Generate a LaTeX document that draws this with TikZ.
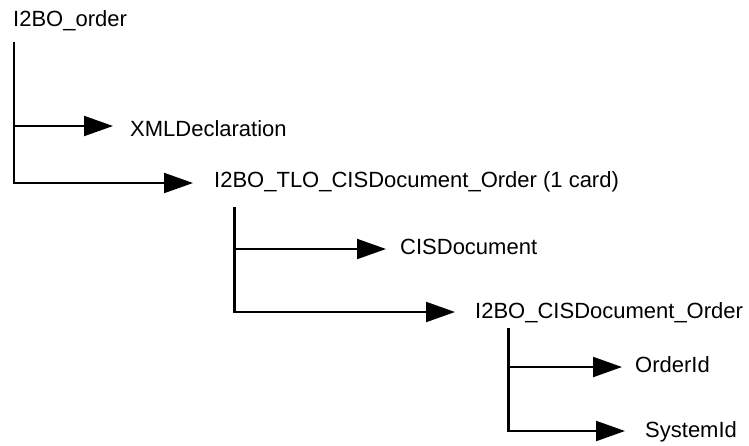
\documentclass[tikz,border=0pt]{standalone}
\usepackage{fontspec}
\setmainfont{Liberation Sans}
\usetikzlibrary{arrows.meta}
\begin{document}
\begin{tikzpicture}[x=1pt,y=-1pt,
  lbl/.style={anchor=base west,inner sep=0pt,font=\fontsize{22}{26}\selectfont},
  branch/.style={line width=2.1pt,-{Triangle[length=29pt,width=20pt]}}]
\useasboundingbox (0,0) rectangle (749,445);
% labels
\node[lbl] (root) at (13,26) {I2BO\_order};
\node[lbl] (xml) at (130,136) {XMLDeclaration};
\node[lbl] (tlo) at (214,187) {I2BO\_TLO\_CISDocument\_Order (1 card)};
\node[lbl] (cis) at (400,254) {CISDocument};
\node[lbl] (ord) at (475,318) {I2BO\_CISDocument\_Order};
\node[lbl] (oid) at (635,372) {OrderId};
\node[lbl] (sid) at (645,437) {SystemId};
% trunk tops
\coordinate (t1) at (14,42);
\coordinate (t2) at (234.5,207);
\coordinate (t3) at (508.5,328);
% level 1
\draw[branch] (t1 |- 0,126) -- ([shift={(-17,-10)}]xml.base west);
\draw[branch] (t1) |- ([shift={(-21,-4)}]tlo.base west);
% level 2
\draw[branch] (t2 |- 0,249) -- ([shift={(-14,-5)}]cis.base west);
\draw[branch] (t2) |- ([shift={(-20,-6)}]ord.base west);
% level 3
\draw[branch] (t3 |- 0,367) -- ([shift={(-13,-5)}]oid.base west);
\draw[branch] (t3) |- ([shift={(-20,-6)}]sid.base west);
\end{tikzpicture}
\end{document}
